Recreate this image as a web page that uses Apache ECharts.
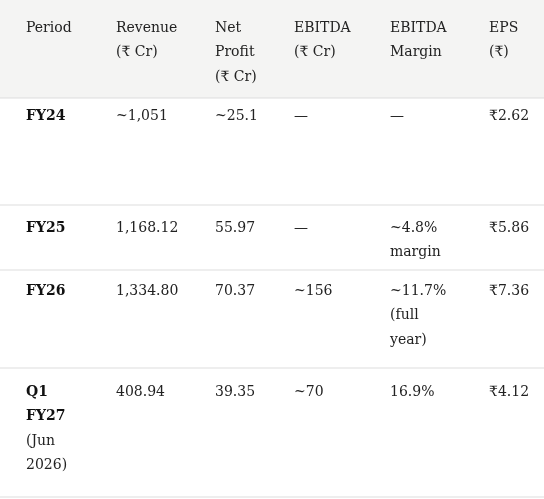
<!DOCTYPE html>
<html>
<head>
<meta charset="utf-8">
<script src="https://cdn.jsdelivr.net/npm/echarts@6/dist/echarts.min.js"></script>
<style>html,body{margin:0;padding:0;background:#fff}#main{width:544px;height:499px}</style>
</head>
<body>
<div id="main"></div>
<script>
// table contents
var headers = ['Period\n', 'Revenue\n(₹ Cr)', 'Net\nProfit\n(₹ Cr)', 'EBITDA\n(₹ Cr)', 'EBITDA\nMargin', 'EPS\n(₹)'];
var periods = ['FY24', 'FY25', 'FY26', 'Q1\nFY27'];
var periodNotes = ['', '', '', '(Jun\n2026)'];
var revenue = ['~1,051', '1,168.12', '1,334.80', '408.94'];
var netProfit = ['~25.1', '55.97', '70.37', '39.35'];
var ebitda = ['—', '—', '~156', '~70'];
var ebitdaMargin = ['—', '~4.8%\nmargin', '~11.7%\n(full\nyear)', '16.9%'];
var eps = ['₹2.62', '₹5.86', '₹7.36', '₹4.12'];

var colX = [26, 116, 215, 294, 390, 489];
var rowTop = [104, 216, 279, 380];
var sepY = [98, 205, 270, 368, 497];
var lineH = 24.5;
var font = '"DejaVu Serif", "Liberation Serif", serif';

var els = [];
els.push({type: 'rect', shape: {x: 0, y: 0, width: 544, height: 98}, style: {fill: '#f4f4f3'}});
sepY.forEach(function (y) {
    els.push({type: 'line', shape: {x1: 0, y1: y, x2: 544, y2: y}, style: {stroke: '#dddddd', lineWidth: 1}});
});
headers.forEach(function (h, i) {
    els.push({type: 'text', x: colX[i], y: 16, style: {text: h, font: '14px ' + font, fill: '#222', lineHeight: lineH, verticalAlign: 'top'}});
});
var cols = [null, revenue, netProfit, ebitda, ebitdaMargin, eps];
periods.forEach(function (p, r) {
    els.push({type: 'text', x: colX[0], y: rowTop[r], style: {text: p, font: 'bold 14px ' + font, fill: '#111', lineHeight: lineH, verticalAlign: 'top'}});
    if (periodNotes[r]) {
        els.push({type: 'text', x: colX[0], y: rowTop[r] + lineH * 2, style: {text: periodNotes[r], font: '14px ' + font, fill: '#222', lineHeight: lineH, verticalAlign: 'top'}});
    }
    for (var c = 1; c < cols.length; c++) {
        els.push({type: 'text', x: colX[c], y: rowTop[r], style: {text: cols[c][r], font: '14px ' + font, fill: '#222', lineHeight: lineH, verticalAlign: 'top'}});
    }
});

var chart = echarts.init(document.getElementById('main'));
chart.setOption({backgroundColor: '#fff', graphic: els});
</script>
</body>
</html>
